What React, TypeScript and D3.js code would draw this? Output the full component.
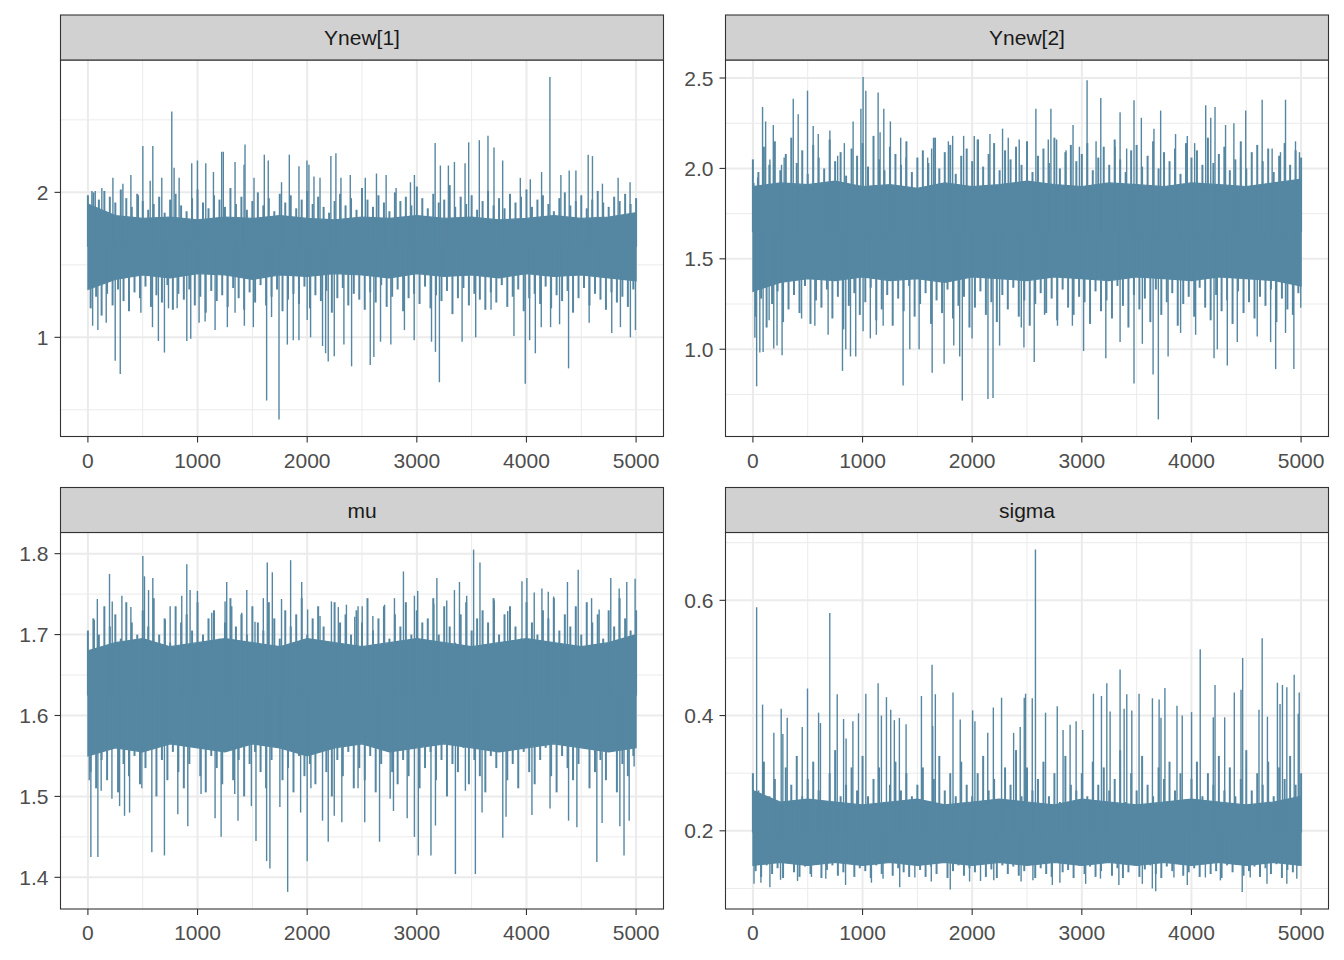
import React from "react";
import * as d3 from "d3";

// MCMC trace plot, 4 parameters, 5000 iterations each.
// Values: a solid core band (every 250 iterations),
// the ragged fringe of the trace (every 50 iterations, upper and lower tips)
// and the individual draws that stick out well beyond it.

type Draw = [number, number]; // [iteration, value]

const xTicks = [0, 1000, 2000, 3000, 4000, 5000];
const bandIters = [0, 250, 500, 750, 1000, 1250, 1500, 1750, 2000, 2250, 2500, 2750, 3000, 3250, 3500, 3750, 4000, 4250, 4500, 4750, 5000];
const fringeStep = 50; // fringe arrays hold one tip per 50 iterations, 0..5000

// ---- Ynew[1]
const ynew1Lo = [1.33, 1.40, 1.43, 1.41, 1.44, 1.43, 1.40, 1.43, 1.42, 1.44, 1.43, 1.41, 1.44, 1.42, 1.43, 1.41, 1.44, 1.42, 1.43, 1.41, 1.39];
const ynew1Hi = [1.92, 1.84, 1.82, 1.83, 1.81, 1.83, 1.82, 1.84, 1.82, 1.81, 1.83, 1.82, 1.84, 1.82, 1.83, 1.81, 1.82, 1.84, 1.82, 1.83, 1.86];
const ynew1FringeHi = [
  1.98, 2.00, 1.95, 2.01, 1.97, 1.93, 2.02, 1.96, 1.90, 1.99, 1.94, 1.88, 1.92, 1.97, 1.86, 1.95, 1.99, 1.91, 1.87, 1.96,
  2.02, 1.93, 1.89, 1.98, 1.95, 1.90, 2.03, 1.92, 1.97, 1.88, 1.94, 2.00, 1.91, 1.96, 1.87, 1.99, 1.93, 1.98, 1.89, 1.95,
  2.01, 1.92, 1.97, 1.90, 1.86, 1.94, 1.99, 1.91, 1.96, 1.88, 2.03, 1.95, 1.90, 1.98, 1.93, 1.87, 2.00, 1.94, 1.97, 1.91,
  2.04, 1.96, 1.89, 1.99, 1.93, 1.95, 2.05, 1.90, 1.97, 1.92, 1.98, 1.88, 1.94, 2.01, 1.91, 1.96, 1.89, 1.99, 1.93, 1.97,
  2.02, 1.90, 1.95, 1.98, 1.92, 1.87, 1.96, 2.00, 1.91, 1.94, 1.98, 1.89, 1.95, 2.01, 1.93, 1.90, 1.97, 1.94, 1.99, 1.92, 1.96,
];
const ynew1FringeLo = [
  1.20, 1.28, 1.15, 1.30, 1.22, 1.33, 1.25, 1.18, 1.31, 1.27, 1.35, 1.21, 1.29, 1.24, 1.36, 1.19, 1.30, 1.26, 1.33, 1.22,
  1.28, 1.17, 1.32, 1.25, 1.29, 1.21, 1.34, 1.27, 1.19, 1.31, 1.24, 1.36, 1.22, 1.28, 1.33, 1.18, 1.26, 1.30, 1.23, 1.35,
  1.20, 1.29, 1.25, 1.32, 1.17, 1.27, 1.34, 1.22, 1.30, 1.26, 1.19, 1.31, 1.24, 1.36, 1.21, 1.28, 1.33, 1.18, 1.27, 1.30,
  1.23, 1.35, 1.20, 1.29, 1.25, 1.32, 1.16, 1.27, 1.34, 1.22, 1.30, 1.26, 1.19, 1.31, 1.24, 1.36, 1.21, 1.28, 1.33, 1.18,
  1.27, 1.30, 1.23, 1.35, 1.20, 1.29, 1.25, 1.32, 1.17, 1.27, 1.34, 1.22, 1.30, 1.26, 1.19, 1.31, 1.24, 1.28, 1.21, 1.33, 1.25,
];
const ynew1Peaks: Draw[] = [[36,2.01],[67,2.01],[127,2.03],[228,2.10],[319,2.06],[392,2.12],[460,1.98],[501,2.32],[568,2.08],[592,2.32],[674,2.10],[765,2.557],[786,2.17],[832,2.10],[947,2.20],[999,2.22],[1075,2.20],[1145,2.14],[1220,2.28],[1235,2.28],[1342,2.21],[1424,2.19],[1433,2.33],[1515,2.10],[1609,2.26],[1645,2.22],[1766,2.07],[1837,2.26],[1925,2.18],[1998,2.22],[2016,2.19],[2062,2.11],[2117,2.10],[2216,2.25],[2262,2.27],[2308,2.10],[2393,2.12],[2530,2.10],[2632,2.13],[2720,2.12],[2811,2.03],[2942,2.07],[2978,2.12],[3167,2.34],[3215,2.185],[3288,2.185],[3343,2.21],[3440,2.20],[3473,2.345],[3570,2.36],[3649,2.39],[3704,2.31],[3783,2.22],[3944,2.10],[4035,2.09],[4138,2.14],[4214,2.795],[4314,2.12],[4390,2.15],[4451,2.15],[4563,2.26],[4602,2.25],[4693,2.06],[4836,2.10],[4945,2.07]];
const ynew1Troughs: Draw[] = [[43,1.08],[91,1.05],[167,1.10],[249,0.838],[295,0.747],[483,1.17],[589,1.07],[643,0.975],[698,0.895],[735,1.20],[814,1.20],[902,0.975],[938,0.99],[1014,1.10],[1069,1.11],[1160,1.05],[1272,1.07],[1342,1.17],[1427,1.08],[1509,1.07],[1630,0.564],[1675,1.14],[1743,0.434],[1819,0.95],[1873,0.98],[1925,0.98],[2000,1.12],[2031,1.00],[2140,0.94],[2168,0.89],[2192,0.834],[2247,0.87],[2335,0.95],[2405,0.80],[2575,0.81],[2608,0.865],[2669,0.97],[2763,0.95],[2887,1.05],[2976,0.98],[3134,0.97],[3170,0.90],[3206,0.69],[3413,0.97],[3537,1.00],[3677,1.19],[3886,1.01],[3989,0.68],[4029,0.98],[4081,0.89],[4135,1.07],[4220,1.07],[4302,1.09],[4384,0.786],[4572,1.10],[4778,1.03],[4857,1.07],[4948,1.00],[4994,1.05]];

// ---- Ynew[2]
const ynew2Lo = [1.32, 1.37, 1.39, 1.38, 1.40, 1.38, 1.39, 1.37, 1.40, 1.39, 1.38, 1.40, 1.39, 1.38, 1.40, 1.39, 1.38, 1.40, 1.39, 1.38, 1.35];
const ynew2Hi = [1.90, 1.92, 1.91, 1.93, 1.90, 1.91, 1.89, 1.92, 1.90, 1.91, 1.93, 1.91, 1.90, 1.92, 1.91, 1.90, 1.92, 1.91, 1.90, 1.92, 1.94];
const ynew2FringeHi = [
  2.05, 1.98, 2.12, 2.02, 2.15, 1.99, 2.08, 2.17, 2.03, 2.10, 1.97, 2.13, 2.06, 2.00, 2.16, 2.04, 2.09, 1.96, 2.11, 2.07,
  2.14, 2.01, 2.18, 2.05, 1.99, 2.12, 2.08, 2.02, 2.15, 1.98, 2.06, 2.10, 2.03, 2.17, 2.00, 2.09, 2.13, 1.97, 2.07, 2.11,
  2.04, 2.16, 2.01, 2.08, 2.14, 1.99, 2.10, 2.05, 2.12, 2.02, 2.15, 1.98, 2.07, 2.11, 2.03, 2.17, 2.00, 2.09, 2.13, 2.04,
  2.08, 2.14, 1.99, 2.06, 2.12, 2.02, 2.16, 2.05, 1.98, 2.10, 2.13, 2.01, 2.07, 2.15, 2.00, 2.09, 2.04, 2.11, 1.97, 2.14,
  2.06, 2.10, 2.02, 2.17, 2.03, 2.08, 2.12, 1.99, 2.05, 2.15, 2.00, 2.09, 2.13, 2.04, 2.11, 1.98, 2.07, 2.14, 2.02, 2.10, 2.06,
];
const ynew2FringeLo = [
  1.18, 1.28, 1.12, 1.25, 1.32, 1.15, 1.22, 1.30, 1.20, 1.35, 1.14, 1.27, 1.23, 1.33, 1.17, 1.29, 1.11, 1.24, 1.31, 1.19,
  1.26, 1.34, 1.16, 1.22, 1.30, 1.13, 1.28, 1.21, 1.35, 1.18, 1.25, 1.31, 1.14, 1.27, 1.20, 1.33, 1.17, 1.24, 1.29, 1.12,
  1.23, 1.32, 1.19, 1.26, 1.15, 1.30, 1.22, 1.34, 1.18, 1.27, 1.13, 1.25, 1.31, 1.20, 1.28, 1.16, 1.33, 1.23, 1.19, 1.29,
  1.26, 1.14, 1.32, 1.21, 1.27, 1.17, 1.35, 1.24, 1.12, 1.30, 1.22, 1.28, 1.15, 1.33, 1.19, 1.26, 1.31, 1.13, 1.25, 1.29,
  1.18, 1.34, 1.23, 1.16, 1.30, 1.21, 1.27, 1.14, 1.32, 1.20, 1.26, 1.17, 1.29, 1.24, 1.33, 1.15, 1.28, 1.22, 1.19, 1.31, 1.24,
];
const ynew2Peaks: Draw[] = [[9,1.92],[43,1.95],[88,2.34],[116,2.26],[155,2.05],[186,2.24],[261,2.02],[285,2.06],[368,2.386],[413,2.30],[498,2.43],[550,2.235],[596,2.19],[702,2.21],[773,2.07],[834,2.14],[914,2.26],[985,2.33],[1005,2.505],[1030,2.43],[1142,2.42],[1160,2.20],[1194,2.33],[1254,2.26],[1348,2.17],[1396,2.06],[1594,2.06],[1630,2.11],[1664,2.17],[1783,2.15],[1822,2.18],[1922,2.18],[2019,2.18],[2056,2.16],[2162,2.19],[2277,2.22],[2329,2.17],[2429,2.16],[2581,2.33],[2694,2.16],[2718,2.33],[2770,2.16],[2856,2.10],[2920,2.24],[2978,2.12],[3048,2.487],[3130,2.15],[3173,2.39],[3303,2.12],[3349,2.31],[3409,2.11],[3476,2.377],[3543,2.28],[3658,2.22],[3719,2.32],[3855,2.19],[3962,2.18],[4029,2.14],[4130,2.35],[4176,2.28],[4215,2.34],[4311,2.24],[4387,2.25],[4448,2.06],[4495,2.32],[4645,2.38],[4736,2.11],[4812,2.09],[4858,2.38],[4949,2.15],[4985,2.09]];
const ynew2Troughs: Draw[] = [[18,1.064],[34,0.795],[63,0.982],[93,0.985],[148,1.16],[190,1.004],[220,1.02],[266,0.967],[444,1.17],[565,1.13],[686,1.08],[817,0.88],[847,1.00],[890,0.96],[938,0.96],[1005,1.10],[1071,1.06],[1126,1.08],[1188,1.13],[1370,0.80],[1431,1.00],[1516,1.00],[1635,0.87],[1744,0.92],[1832,1.02],[1886,0.96],[1910,0.716],[1999,1.06],[2144,0.725],[2190,0.73],[2250,1.02],[2448,1.12],[2472,1.01],[2566,0.93],[2660,1.19],[2778,1.13],[2914,1.13],[3016,0.99],[3219,0.95],[3349,1.04],[3476,0.81],[3552,1.03],[3650,0.86],[3698,0.612],[3787,0.96],[3901,1.09],[4038,1.08],[4206,0.95],[4236,1.00],[4327,0.91],[4418,1.04],[4600,1.07],[4722,1.04],[4768,0.89],[4858,1.09],[4934,0.89],[4997,1.23]];

// ---- mu
const muLo = [1.55, 1.56, 1.555, 1.565, 1.56, 1.555, 1.565, 1.56, 1.55, 1.56, 1.565, 1.555, 1.56, 1.565, 1.56, 1.555, 1.56, 1.565, 1.56, 1.555, 1.56];
const muHi = [1.68, 1.69, 1.695, 1.685, 1.69, 1.695, 1.69, 1.685, 1.695, 1.69, 1.685, 1.69, 1.695, 1.69, 1.685, 1.69, 1.695, 1.69, 1.685, 1.69, 1.70];
const muFringeHi = [
  1.705, 1.72, 1.70, 1.735, 1.71, 1.725, 1.695, 1.74, 1.715, 1.70, 1.73, 1.71, 1.745, 1.70, 1.72, 1.69, 1.735, 1.715, 1.725, 1.705,
  1.74, 1.70, 1.72, 1.73, 1.695, 1.715, 1.745, 1.71, 1.725, 1.70, 1.735, 1.715, 1.705, 1.74, 1.72, 1.695, 1.73, 1.71, 1.725, 1.745,
  1.70, 1.72, 1.735, 1.71, 1.69, 1.74, 1.715, 1.725, 1.70, 1.73, 1.715, 1.745, 1.705, 1.72, 1.735, 1.695, 1.725, 1.71, 1.74, 1.70,
  1.73, 1.715, 1.72, 1.745, 1.70, 1.735, 1.71, 1.69, 1.725, 1.74, 1.705, 1.72, 1.73, 1.715, 1.745, 1.70, 1.725, 1.735, 1.71, 1.695,
  1.74, 1.715, 1.70, 1.73, 1.72, 1.745, 1.705, 1.725, 1.71, 1.735, 1.70, 1.74, 1.715, 1.725, 1.695, 1.73, 1.71, 1.745, 1.72, 1.705, 1.73,
];
const muFringeLo = [
  1.53, 1.51, 1.545, 1.52, 1.56, 1.505, 1.54, 1.525, 1.55, 1.515, 1.535, 1.56, 1.50, 1.545, 1.52, 1.555, 1.53, 1.51, 1.54, 1.565,
  1.525, 1.505, 1.55, 1.535, 1.515, 1.56, 1.52, 1.545, 1.50, 1.54, 1.555, 1.53, 1.51, 1.545, 1.565, 1.52, 1.535, 1.505, 1.55, 1.525,
  1.54, 1.515, 1.56, 1.53, 1.50, 1.545, 1.525, 1.555, 1.51, 1.535, 1.52, 1.55, 1.505, 1.54, 1.565, 1.53, 1.515, 1.545, 1.525, 1.56,
  1.51, 1.535, 1.555, 1.52, 1.545, 1.50, 1.54, 1.53, 1.56, 1.515, 1.545, 1.525, 1.505, 1.55, 1.535, 1.565, 1.52, 1.54, 1.51, 1.555,
  1.53, 1.515, 1.545, 1.56, 1.525, 1.505, 1.55, 1.535, 1.52, 1.54, 1.565, 1.51, 1.53, 1.545, 1.52, 1.555, 1.505, 1.54, 1.525, 1.55, 1.535,
];
const muPeaks: Draw[] = [[58,1.718],[86,1.744],[197,1.775],[222,1.741],[310,1.748],[392,1.734],[501,1.797],[516,1.772],[553,1.755],[592,1.77],[705,1.718],[750,1.735],[856,1.748],[902,1.787],[932,1.755],[999,1.754],[1130,1.727],[1251,1.741],[1266,1.765],[1312,1.735],[1403,1.727],[1449,1.755],[1524,1.716],[1600,1.745],[1636,1.789],[1682,1.777],[1766,1.744],[1849,1.792],[1950,1.765],[2004,1.731],[2117,1.723],[2221,1.741],[2284,1.734],[2358,1.737],[2434,1.722],[2464,1.735],[2502,1.735],[2599,1.723],[2706,1.737],[2796,1.745],[2878,1.778],[2978,1.748],[3008,1.754],[3155,1.738],[3183,1.77],[3273,1.742],[3343,1.755],[3389,1.765],[3455,1.748],[3518,1.805],[3576,1.789],[3707,1.742],[3829,1.729],[3959,1.766],[4004,1.77],[4071,1.752],[4141,1.757],[4199,1.753],[4248,1.747],[4374,1.765],[4472,1.78],[4594,1.745],[4663,1.731],[4769,1.77],[4846,1.757],[4915,1.765],[4991,1.769]];
const muTroughs: Draw[] = [[12,1.52],[27,1.425],[91,1.425],[121,1.507],[219,1.497],[289,1.488],[334,1.476],[380,1.48],[492,1.51],[583,1.431],[698,1.427],[820,1.478],[911,1.463],[1032,1.503],[1160,1.473],[1215,1.45],[1339,1.503],[1369,1.47],[1491,1.488],[1533,1.445],[1630,1.42],[1660,1.411],[1751,1.487],[1822,1.382],[1940,1.48],[2000,1.42],[2034,1.51],[2140,1.47],[2192,1.444],[2247,1.476],[2316,1.468],[2464,1.51],[2525,1.468],[2660,1.444],[2757,1.497],[2787,1.482],[2912,1.473],[2978,1.45],[3014,1.427],[3129,1.427],[3170,1.464],[3352,1.404],[3443,1.507],[3534,1.404],[3595,1.48],[3784,1.449],[3814,1.475],[4050,1.477],[4215,1.485],[4384,1.47],[4460,1.462],[4642,1.419],[4690,1.467],[4852,1.463],[4890,1.427],[4937,1.47],[4982,1.537]];

// ---- sigma
const sigmaLo = [0.14, 0.145, 0.14, 0.145, 0.14, 0.145, 0.14, 0.145, 0.14, 0.145, 0.14, 0.145, 0.14, 0.145, 0.14, 0.145, 0.14, 0.145, 0.14, 0.145, 0.14];
const sigmaHi = [0.27, 0.25, 0.255, 0.25, 0.245, 0.25, 0.255, 0.245, 0.25, 0.255, 0.25, 0.245, 0.255, 0.25, 0.245, 0.25, 0.255, 0.25, 0.245, 0.25, 0.26];
const sigmaFringeHi = [
  0.30, 0.27, 0.32, 0.26, 0.29, 0.25, 0.31, 0.28, 0.33, 0.26, 0.29, 0.32, 0.27, 0.25, 0.30, 0.34, 0.26, 0.28, 0.31, 0.27,
  0.33, 0.26, 0.29, 0.31, 0.25, 0.28, 0.32, 0.27, 0.30, 0.26, 0.28, 0.31, 0.25, 0.29, 0.33, 0.27, 0.30, 0.26, 0.32, 0.28,
  0.26, 0.30, 0.33, 0.27, 0.29, 0.25, 0.31, 0.28, 0.34, 0.26, 0.31, 0.27, 0.29, 0.32, 0.26, 0.30, 0.25, 0.33, 0.28, 0.27,
  0.30, 0.26, 0.32, 0.28, 0.31, 0.27, 0.29, 0.34, 0.25, 0.30, 0.27, 0.33, 0.28, 0.26, 0.31, 0.29, 0.32, 0.27, 0.30, 0.25,
  0.29, 0.32, 0.26, 0.30, 0.28, 0.33, 0.27, 0.31, 0.26, 0.29, 0.34, 0.27, 0.30, 0.28, 0.32, 0.26, 0.31, 0.29, 0.33, 0.28, 0.30,
];
const sigmaFringeLo = [
  0.13, 0.12, 0.14, 0.125, 0.135, 0.118, 0.145, 0.128, 0.12, 0.138, 0.125, 0.142, 0.118, 0.132, 0.14, 0.122, 0.128, 0.145, 0.12, 0.135,
  0.13, 0.118, 0.14, 0.125, 0.148, 0.122, 0.135, 0.128, 0.12, 0.142, 0.132, 0.12, 0.138, 0.125, 0.145, 0.118, 0.13, 0.14, 0.122, 0.135,
  0.128, 0.145, 0.12, 0.133, 0.118, 0.14, 0.125, 0.138, 0.122, 0.13, 0.142, 0.118, 0.135, 0.125, 0.12, 0.145, 0.128, 0.132, 0.118, 0.14,
  0.125, 0.138, 0.12, 0.13, 0.145, 0.122, 0.135, 0.118, 0.128, 0.142, 0.12, 0.133, 0.14, 0.125, 0.118, 0.138, 0.13, 0.145, 0.122, 0.128,
  0.135, 0.12, 0.142, 0.125, 0.13, 0.118, 0.14, 0.128, 0.145, 0.122, 0.13, 0.138, 0.12, 0.135, 0.125, 0.142, 0.118, 0.132, 0.128, 0.14, 0.13,
];
const sigmaPeaks: Draw[] = [[34,0.588],[88,0.419],[191,0.37],[258,0.412],[273,0.368],[313,0.396],[450,0.38],[498,0.447],[599,0.405],[616,0.387],[701,0.578],[769,0.437],[827,0.394],[850,0.36],[912,0.39],[963,0.404],[1030,0.438],[1142,0.456],[1172,0.40],[1218,0.432],[1257,0.41],[1290,0.392],[1336,0.396],[1397,0.385],[1537,0.434],[1634,0.488],[1640,0.382],[1664,0.437],[1825,0.44],[1891,0.393],[2004,0.409],[2025,0.39],[2142,0.37],[2193,0.414],[2268,0.431],[2378,0.37],[2438,0.38],[2475,0.431],[2487,0.438],[2548,0.43],[2577,0.688],[2669,0.405],[2776,0.416],[2829,0.375],[2893,0.384],[2948,0.39],[3008,0.375],[3106,0.438],[3179,0.434],[3228,0.456],[3258,0.407],[3349,0.48],[3386,0.412],[3410,0.437],[3456,0.409],[3522,0.438],[3644,0.43],[3705,0.428],[3722,0.396],[3758,0.448],[3868,0.417],[3916,0.40],[4001,0.406],[4080,0.515],[4199,0.397],[4215,0.453],[4303,0.397],[4391,0.44],[4452,0.445],[4467,0.50],[4616,0.41],[4645,0.534],[4693,0.398],[4784,0.457],[4808,0.42],[4830,0.453],[4870,0.449],[4937,0.471],[4974,0.403],[4983,0.44]];
const sigmaTroughs: Draw[] = [[10,0.108],[73,0.11],[155,0.102],[252,0.115],[407,0.113],[534,0.12],[665,0.117],[845,0.106],[1081,0.11],[1187,0.117],[1339,0.102],[1477,0.119],[1627,0.112],[1800,0.098],[1976,0.112],[2076,0.113],[2197,0.114],[2446,0.112],[2554,0.114],[2731,0.106],[2800,0.11],[3035,0.108],[3170,0.117],[3338,0.106],[3552,0.108],[3643,0.10],[3674,0.095],[3840,0.119],[3962,0.106],[4127,0.119],[4264,0.114],[4463,0.094],[4536,0.119],[4689,0.108],[4870,0.108],[4961,0.117]];

const panels = [
  { title: "Ynew[1]", lo: ynew1Lo, hi: ynew1Hi, fHi: ynew1FringeHi, fLo: ynew1FringeLo, peaks: ynew1Peaks, troughs: ynew1Troughs, yTicks: [1, 2], fmt: "d" },
  { title: "Ynew[2]", lo: ynew2Lo, hi: ynew2Hi, fHi: ynew2FringeHi, fLo: ynew2FringeLo, peaks: ynew2Peaks, troughs: ynew2Troughs, yTicks: [1.0, 1.5, 2.0, 2.5], fmt: ".1f" },
  { title: "mu", lo: muLo, hi: muHi, fHi: muFringeHi, fLo: muFringeLo, peaks: muPeaks, troughs: muTroughs, yTicks: [1.4, 1.5, 1.6, 1.7, 1.8], fmt: ".1f" },
  { title: "sigma", lo: sigmaLo, hi: sigmaHi, fHi: sigmaFringeHi, fLo: sigmaFringeLo, peaks: sigmaPeaks, troughs: sigmaTroughs, yTicks: [0.2, 0.4, 0.6], fmt: ".1f" },
];

const W = 1344;
const H = 960;
const colLeft = [60.5, 725.5];
const panelW = 603;
const rowTop = [15, 487.5];
const stripH = 45;
const plotH = 376.5;
const lineColor = "#5587a2";
const font = "'Liberation Sans', Arial, Helvetica, sans-serif";

const Panel = ({ p, left, top }) => {
  const plotTop = top + stripH;
  const plotBottom = plotTop + plotH;
  const right = left + panelW;

  const x = d3.scaleLinear().domain([-250, 5250]).range([left, right]);
  const all = [...p.peaks, ...p.troughs].map((d) => d[1]);
  const [vmin, vmax] = d3.extent(all) as [number, number];
  const pad = (vmax - vmin) * 0.05;
  const y = d3.scaleLinear().domain([vmin - pad, vmax + pad]).range([plotBottom, plotTop]);

  const step = p.yTicks[1] - p.yTicks[0];
  const minor = [p.yTicks[0] - step / 2, ...p.yTicks.map((t) => t + step / 2)].filter(
    (t) => t > y.domain()[0] && t < y.domain()[1]
  );
  const xMinor = [500, 1500, 2500, 3500, 4500];
  const center = (d3.mean(p.lo) + d3.mean(p.hi)) / 2;

  const band = d3
    .area<number>()
    .x((_, i) => x(bandIters[i]))
    .y0((_, i) => y(p.lo[i]))
    .y1((_, i) => y(p.hi[i]));

  // fringe tips: one upper and one lower draw per 50 iterations
  const fringe: Draw[] = [
    ...p.fHi.map((v, i) => [i * fringeStep, v] as Draw),
    ...p.fLo.map((v, i) => [i * fringeStep + fringeStep / 2, v] as Draw),
  ].filter((d) => d[0] <= 5000);

  const fmt = d3.format(p.fmt);

  return (
    <g>
      <rect x={left} y={plotTop} width={panelW} height={plotH} fill="#fff" />
      {minor.map((t) => (
        <line key={"ym" + t} x1={left} x2={right} y1={y(t)} y2={y(t)} stroke="#ebebeb" strokeWidth={1} />
      ))}
      {xMinor.map((t) => (
        <line key={"xm" + t} x1={x(t)} x2={x(t)} y1={plotTop} y2={plotBottom} stroke="#ebebeb" strokeWidth={1} />
      ))}
      {p.yTicks.map((t) => (
        <line key={"yM" + t} x1={left} x2={right} y1={y(t)} y2={y(t)} stroke="#ebebeb" strokeWidth={2} />
      ))}
      {xTicks.map((t) => (
        <line key={"xM" + t} x1={x(t)} x2={x(t)} y1={plotTop} y2={plotBottom} stroke="#ebebeb" strokeWidth={2} />
      ))}

      <path d={band(p.lo)} fill={lineColor} stroke={lineColor} strokeWidth={1.2} />
      {fringe.map((d, i) => (
        <line
          key={"f" + i}
          x1={x(d[0])}
          x2={x(d[0])}
          y1={y(center)}
          y2={y(d[1])}
          stroke={lineColor}
          strokeWidth={2}
        />
      ))}
      {[...p.peaks, ...p.troughs].map((d, i) => (
        <line
          key={"s" + i}
          x1={x(d[0])}
          x2={x(d[0])}
          y1={y(center)}
          y2={y(d[1])}
          stroke={lineColor}
          strokeWidth={1.4}
        />
      ))}

      <rect x={left} y={plotTop} width={panelW} height={plotH} fill="none" stroke="#333" strokeWidth={1.1} />
      <rect x={left} y={top} width={panelW} height={stripH} fill="#d1d1d1" stroke="#333" strokeWidth={1.1} />
      <text x={left + panelW / 2} y={top + stripH / 2} dy="0.36em" textAnchor="middle" fontSize={21} fill="#1a1a1a">
        {p.title}
      </text>

      {p.yTicks.map((t) => (
        <g key={"yt" + t}>
          <line x1={left - 6} x2={left} y1={y(t)} y2={y(t)} stroke="#333" strokeWidth={1.1} />
          <text x={left - 12} y={y(t)} dy="0.36em" textAnchor="end" fontSize={21} fill="#4d4d4d">
            {fmt(t)}
          </text>
        </g>
      ))}
      {xTicks.map((t) => (
        <g key={"xt" + t}>
          <line x1={x(t)} x2={x(t)} y1={plotBottom} y2={plotBottom + 6} stroke="#333" strokeWidth={1.1} />
          <text x={x(t)} y={plotBottom + 31} textAnchor="middle" fontSize={21} fill="#4d4d4d">
            {t}
          </text>
        </g>
      ))}
    </g>
  );
};

export default function App() {
  return (
    <svg
      width={W}
      height={H}
      style={{ position: "absolute", left: 0, top: 0, background: "#fff", fontFamily: font }}
    >
      <rect width={W} height={H} fill="#fff" />
      {panels.map((p, i) => (
        <Panel key={p.title} p={p} left={colLeft[i % 2]} top={rowTop[Math.floor(i / 2)]} />
      ))}
    </svg>
  );
}
